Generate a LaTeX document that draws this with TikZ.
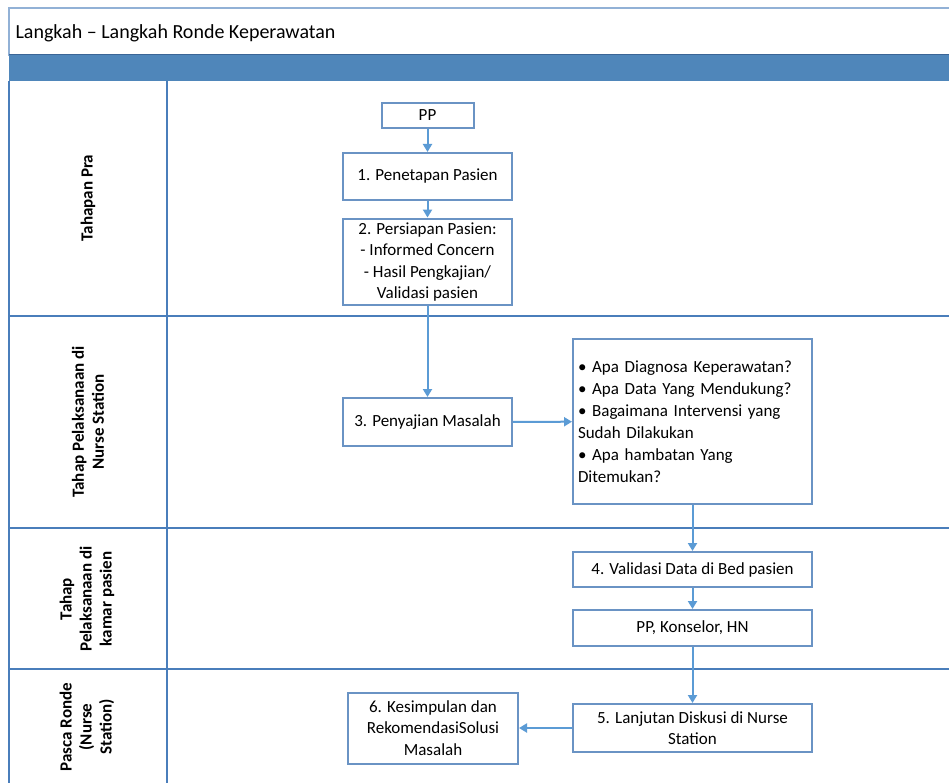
\documentclass[tikz,border=0pt]{standalone}
\usepackage{fontspec}
\setmainfont{Carlito}
\usetikzlibrary{arrows.meta}

\definecolor{garis}{HTML}{4A7EBB}
\definecolor{pita}{HTML}{4F86BA}
\definecolor{tepi}{HTML}{6A93C4}
\definecolor{alur}{HTML}{5B9BD5}

\begin{document}
\begin{tikzpicture}[x=1pt,y=-1pt,
    kotak/.style={draw=tepi,line width=2pt,fill=white,align=center,inner sep=4pt,
        font=\fontsize{17}{21.5}\selectfont},
    panah/.style={-{Triangle[length=8pt,width=9pt]},alur,line width=2pt},
    jalur/.style={garis,line width=2pt},
    label/.style={rotate=90,align=center,font=\bfseries\fontsize{17}{20}\selectfont}]

    % page size of the screenshot
    \useasboundingbox (0,0) rectangle (949,783);
    \clip (0,0) rectangle (949,783);
    \fill[white] (0,0) rectangle (949,783);

    % title bar and blue band
    \draw[garis!60,line width=1.5pt] (9,8) rectangle (960,55);
    \fill[pita] (9,55) rectangle (960,81);
    \draw[garis!80!black,line width=1pt] (9,55) -- (960,55);
    \node[anchor=west,font=\fontsize{20}{24}\selectfont] (judul) at (12,33) {Langkah – Langkah Ronde Keperawatan};

    % swimlanes
    \draw[jalur] (9,81) -- (9,790);
    \draw[jalur] (167,81) -- (167,790);
    \foreach \y in {316,528,669}
        \draw[jalur] (9,\y) -- (960,\y);

    % lane labels
    \node[label] (lajur1) at (88,198) {Tahapan Pra};
    \node[label] (lajur2) at (88,422) {Tahap Pelaksanaan di\\Nurse Station};
    \node[label] (lajur3) at (87,599) {Tahap\\Pelaksanaan di\\kamar pasien};
    \node[label] (lajur4) at (87,727) {Pasca Ronde\\(Nurse\\Station)};

    % steps
    \node[kotak,minimum width=92pt,minimum height=25pt] (pp) at (427.5,115.5) {PP};
    \node[kotak,minimum width=169pt,minimum height=47pt] (penetapan) at (427.5,176.5) {1. Penetapan Pasien};
    \node[kotak,minimum width=169pt,minimum height=82pt] (persiapan) at (427.5,262) {2. Persiapan Pasien:\\- Informed Concern\\- Hasil Pengkajian/\\Validasi pasien};
    \node[kotak,minimum width=169pt,minimum height=48pt] (penyajian) at (427.5,422) {3. Penyajian Masalah};
    \node[kotak,align=left,text width=229pt,inner sep=5pt,minimum height=165pt,
        font=\fontsize{17}{22}\selectfont] (pertanyaan) at (692.5,421.5)
        {• Apa Diagnosa Keperawatan?\\• Apa Data Yang Mendukung?\\• Bagaimana Intervensi yang\\Sudah Dilakukan\\• Apa hambatan Yang\\Ditemukan?};
    \node[kotak,minimum width=239pt,minimum height=35pt] (validasi) at (692.5,569.5) {4. Validasi Data di Bed pasien};
    \node[kotak,minimum width=239pt,minimum height=36pt] (tim) at (692.5,628) {PP, Konselor, HN};
    \node[kotak,minimum width=239pt,minimum height=48pt] (diskusi) at (692.5,728) {5. Lanjutan Diskusi di Nurse\\Station};
    \node[kotak,minimum width=170pt,minimum height=71pt] (kesimpulan) at (433,728) {6. Kesimpulan dan\\RekomendasiSolusi\\Masalah};

    % flow
    \draw[panah] (pp) -- (penetapan);
    \draw[panah] (penetapan) -- (persiapan);
    \draw[panah] (persiapan) -- (penyajian);
    \draw[panah] (penyajian) -- (pertanyaan);
    \draw[panah] (pertanyaan) -- (validasi);
    \draw[panah] (validasi) -- (tim);
    \draw[panah] (tim) -- (diskusi);
    \draw[panah] (diskusi) -- (kesimpulan);

\end{tikzpicture}
\end{document}
